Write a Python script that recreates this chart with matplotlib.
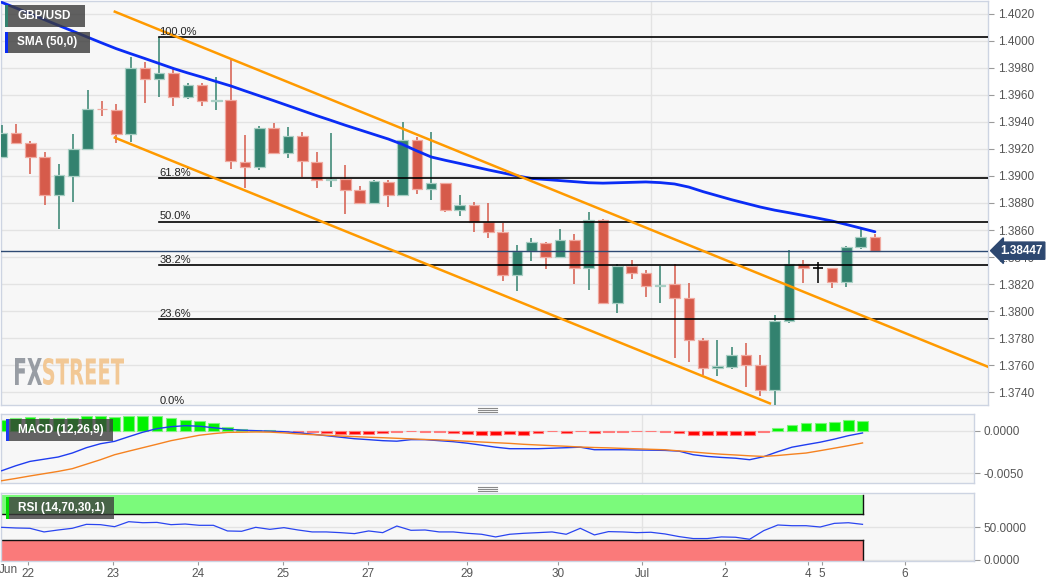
import numpy as np
import matplotlib
matplotlib.use("Agg")
import matplotlib.pyplot as plt
from matplotlib.patches import Rectangle, PathPatch
from matplotlib.textpath import TextPath
from matplotlib.font_manager import FontProperties
from matplotlib.transforms import Affine2D, blended_transform_factory

plt.rcParams['font.family'] = ['Liberation Sans', 'DejaVu Sans']

# GBP/USD 4h candles
opens = [1.39139, 1.39321, 1.39247, 1.39139, 1.38857, 1.39003, 1.39202, 1.39496, 1.39489, 1.39309,
         1.39798, 1.39719, 1.39761, 1.39587, 1.39672, 1.39556, 1.39563, 1.39106, 1.39064, 1.39358,
         1.39168, 1.39294, 1.39106, 1.38968, 1.38980, 1.38894, 1.38798, 1.38953, 1.38859, 1.39267,
         1.38906, 1.38946, 1.38748, 1.38785, 1.38657, 1.38583, 1.38269, 1.38444, 1.38506, 1.38400,
         1.38526, 1.38319, 1.38676, 1.38057, 1.38336, 1.38284, 1.38187, 1.38198, 1.38094, 1.37785,
         1.37576, 1.37587, 1.37674, 1.37598, 1.37415, 1.37926, 1.38348, 1.38316, 1.38316, 1.38217,
         1.38472, 1.38550]
highs = [1.39378, 1.39385, 1.39259, 1.39178, 1.39087, 1.39311, 1.39637, 1.39556, 1.39531, 1.39879,
         1.39842, 1.40027, 1.39802, 1.39691, 1.39687, 1.39736, 1.39872, 1.39301, 1.39368, 1.39390,
         1.39361, 1.39324, 1.39176, 1.39316, 1.39079, 1.38926, 1.38970, 1.38970, 1.39400, 1.39287,
         1.39328, 1.38950, 1.38859, 1.38805, 1.38798, 1.38650, 1.38487, 1.38539, 1.38513, 1.38607,
         1.38568, 1.38731, 1.38681, 1.38348, 1.38378, 1.38301, 1.38336, 1.38346, 1.38205, 1.37798,
         1.37785, 1.37731, 1.37761, 1.37674, 1.37970, 1.38452, 1.38378, 1.38365, 1.38316, 1.38481,
         1.38613, 1.38568]
lows = [1.39133, 1.39244, 1.39013, 1.38783, 1.38605, 1.38807, 1.39198, 1.39444, 1.39242, 1.39254,
        1.39539, 1.39583, 1.39516, 1.39570, 1.39516, 1.39487, 1.39050, 1.38909, 1.39044, 1.39161,
        1.39131, 1.38990, 1.38909, 1.38921, 1.38716, 1.38798, 1.38798, 1.38768, 1.38859, 1.38864,
        1.38822, 1.38736, 1.38706, 1.38587, 1.38543, 1.38220, 1.38148, 1.38373, 1.38313, 1.38398,
        1.38198, 1.38156, 1.38050, 1.37983, 1.38235, 1.38106, 1.38057, 1.37650, 1.37624, 1.37526,
        1.37519, 1.37568, 1.37439, 1.37370, 1.37295, 1.37909, 1.38210, 1.38210, 1.38168, 1.38180,
        1.38457, 1.38439]
closes = [1.39321, 1.39247, 1.39139, 1.38857, 1.39005, 1.39202, 1.39499, 1.39493, 1.39309, 1.39798,
          1.39721, 1.39761, 1.39587, 1.39672, 1.39558, 1.39565, 1.39113, 1.39067, 1.39356, 1.39168,
          1.39294, 1.39109, 1.38970, 1.38980, 1.38896, 1.38798, 1.38963, 1.38859, 1.39267, 1.38906,
          1.38946, 1.38748, 1.38785, 1.38659, 1.38583, 1.38269, 1.38444, 1.38509, 1.38400, 1.38526,
          1.38319, 1.38674, 1.38057, 1.38336, 1.38284, 1.38187, 1.38196, 1.38094, 1.37785, 1.37576,
          1.37593, 1.37674, 1.37598, 1.37415, 1.37926, 1.38348, 1.38316, 1.38316, 1.38217, 1.38472,
          1.38550, 1.38447]
sma50 = [1.40286, 1.40244, 1.40201, 1.40157, 1.40114, 1.40071, 1.40028, 1.39985, 1.39943, 1.39906,
         1.39870, 1.39833, 1.39796, 1.39763, 1.39732, 1.39699, 1.39667, 1.39630, 1.39594, 1.39558,
         1.39521, 1.39484, 1.39447, 1.39412, 1.39376, 1.39342, 1.39308, 1.39274, 1.39234, 1.39186,
         1.39141, 1.39116, 1.39093, 1.39069, 1.39045, 1.39023, 1.39001, 1.38982, 1.38974, 1.38966,
         1.38958, 1.38950, 1.38947, 1.38950, 1.38953, 1.38956, 1.38951, 1.38941, 1.38918, 1.38884,
         1.38854, 1.38824, 1.38797, 1.38770, 1.38747, 1.38728, 1.38708, 1.38688, 1.38667, 1.38641,
         1.38614, 1.38587]

macd = [-0.00473, -0.00414, -0.00363, -0.00337, -0.00311, -0.00264, -0.00201, -0.00154, -0.00126, -0.00071,
        -0.00018, 0.00024, 0.00047, 0.00059, 0.00053, 0.00035, 0.00018, 0.00006, 0.0, -0.00006,
        -0.00012, -0.00024, -0.00041, -0.00059, -0.00077, -0.00095, -0.00106, -0.00118, -0.00124, -0.00106,
        -0.00106, -0.00118, -0.00130, -0.00148, -0.00171, -0.00195, -0.00213, -0.00213, -0.00213, -0.00207,
        -0.00201, -0.00195, -0.00225, -0.00225, -0.00225, -0.00228, -0.00230, -0.00233, -0.00242, -0.00284,
        -0.00304, -0.00316, -0.00325, -0.00343, -0.00307, -0.00248, -0.00195, -0.00165, -0.00136, -0.00100,
        -0.00059, -0.00027]
signal = [-0.00591, -0.00564, -0.00535, -0.00508, -0.00481, -0.00449, -0.00396, -0.00343, -0.00284, -0.00242,
          -0.00201, -0.00160, -0.00118, -0.00086, -0.00054, -0.00035, -0.00020, -0.00018, -0.00015, -0.00017,
          -0.00026, -0.00039, -0.00047, -0.00054, -0.00063, -0.00070, -0.00077, -0.00083, -0.00090, -0.00097,
          -0.00104, -0.00109, -0.00117, -0.00125, -0.00134, -0.00142, -0.00150, -0.00161, -0.00169, -0.00177,
          -0.00184, -0.00193, -0.00199, -0.00203, -0.00209, -0.00214, -0.00220, -0.00225, -0.00239, -0.00252,
          -0.00266, -0.00278, -0.00287, -0.00297, -0.00304, -0.00293, -0.00278, -0.00264, -0.00236, -0.00207,
          -0.00177, -0.00145]
hist = [0.00122, 0.00150, 0.00162, 0.00150, 0.00150, 0.00150, 0.00169, 0.00177, 0.00162, 0.00177,
        0.00177, 0.00169, 0.00150, 0.00130, 0.00110, 0.00091, 0.00044, 0.00020, 0.00012, 0.00004,
        -0.00004, -0.00012, -0.00020, -0.00027, -0.00039, -0.00044, -0.00035, -0.00032, -0.00020, -0.00008,
        -0.00020, -0.00020, -0.00032, -0.00035, -0.00047, -0.00051, -0.00044, -0.00047, -0.00027, -0.00004,
        -0.00027, -0.00004, -0.00027, -0.00020, -0.00012, -0.00004, -0.00004, -0.00020, -0.00027, -0.00047,
        -0.00056, -0.00047, -0.00047, -0.00047, -0.00015, 0.00035, 0.00071, 0.00086, 0.00091, 0.00106,
        0.00122, 0.00118]
rsi = [50.0, 49.0, 48.5, 42.9, 45.9, 48.5, 54.6, 54.1, 51.0, 58.7,
       57.1, 57.6, 54.1, 55.1, 53.1, 53.1, 44.4, 43.9, 50.0, 46.9,
       49.5, 45.9, 42.9, 42.9, 41.8, 40.3, 44.4, 41.8, 52.0, 45.4,
       45.9, 42.9, 42.9, 40.8, 39.3, 35.2, 39.3, 40.8, 41.8, 42.9,
       39.3, 48.5, 38.3, 43.4, 42.9, 41.8, 42.4, 39.8, 35.7, 32.7,
       32.7, 35.2, 34.7, 31.6, 44.9, 53.6, 52.5, 52.5, 50.5, 56.1,
       57.1, 54.6]

tick_pos = [1.86, 7.89, 13.91, 19.93, 25.96, 32.97, 39.42, 45.38, 51.26, 57.14, 58.13, 64.02]
tick_labels = ['22', '23', '24', '25', '27', '29', '30', 'Jul', '2', '4', '5', '6']
month_label_pos = 0.45

fib_high = 1.40027
fib_low = 1.37295
fib_ratios = [0.0, 0.236, 0.382, 0.5, 0.618, 1.0]
fib_names = ['0.0%', '23.6%', '38.2%', '50.0%', '61.8%', '100.0%']
fib_start = 11

chan_upper_x = [7.9, 68.9]
chan_upper_y = [1.40217, 1.37587]
chan_lower_x = [7.9, 53.66]
chan_lower_y = [1.39284, 1.37316]
last_price = 1.38447

W, H = 1060, 587
GREEN, RED = '#33826f', '#d65b4b'
BG = '#f7f7f7'
SPINE = '#cdd4e2'
GRID = '#e3e3e3'
TXT = '#555555'

n = len(closes)
idx = np.arange(n)
xlim = (-0.05, 68.9)

fig = plt.figure(figsize=(W / 100, H / 100), dpi=100)
fig.patch.set_facecolor('white')


def fax(x0, y0, x1, y1):
    return [x0 / W, 1 - y1 / H, (x1 - x0) / W, (y1 - y0) / H]


ax = fig.add_axes(fax(1, 1, 988, 405))
axm = fig.add_axes(fax(1, 414, 974, 483))
axr = fig.add_axes(fax(1, 493, 974, 561))

for a in (ax, axm, axr):
    a.set_facecolor(BG)
    for s in a.spines.values():
        s.set_color(SPINE)
        s.set_linewidth(1)
    a.set_xlim(*xlim)
    a.yaxis.tick_right()
    a.tick_params(axis='y', labelsize=8.5, labelcolor=TXT, color='#9a9a9a', length=4, width=0.8, pad=3)
    a.axvline(tick_pos[7], color=GRID, lw=1, zorder=0)

# ---- main price panel
ax.set_ylim(1.37304, 1.40296)
yt = np.arange(1.374, 1.4021, 0.002)
ax.set_yticks(yt, [f'{v:.4f}' for v in yt])
ax.grid(axis='y', color=GRID, lw=1)
ax.set_axisbelow(True)
ax.tick_params(axis='x', bottom=False, labelbottom=False)

for i in range(n):
    o, h, l, c = opens[i], highs[i], lows[i], closes[i]
    if abs(c - o) < 1e-6:
        col, ec = 'black', 'black'
    elif c > o:
        col, ec = GREEN, '#a9cfc4'
    else:
        col, ec = RED, '#f0aaa0'
    ax.vlines(i, l, h, color=col, lw=1.1, zorder=3)
    hgt = max(abs(c - o), 0.00003)
    if col == 'black':
        ax.hlines(o, i - 0.36, i + 0.36, color='black', lw=1.2, zorder=4)
    else:
        ax.bar(i, hgt, bottom=min(o, c), width=0.74, color=col, edgecolor=ec,
               linewidth=0.9, zorder=4)

ax.plot(idx, sma50, color='#0a2cf5', lw=2, zorder=5, solid_capstyle='round')
ax.plot(chan_upper_x, chan_upper_y, color='#ff9a00', lw=1.8, zorder=6)
ax.plot(chan_lower_x, chan_lower_y, color='#ff9a00', lw=1.8, zorder=6)

for r, name in zip(fib_ratios, fib_names):
    lvl = fib_low + r * (fib_high - fib_low)
    ax.plot([fib_start, xlim[1]], [lvl, lvl], color='black', lw=1.2, zorder=5)
    ax.text(fib_start, lvl + 0.00003, name, fontsize=8, color='#222222',
            ha='left', va='bottom', zorder=7)

ax.axhline(last_price, color='#2e4a73', lw=1, zorder=5)
trans = blended_transform_factory(ax.transAxes, ax.transData)
ax.text(1.012, last_price, f'{last_price:.5f}', transform=trans, fontsize=8.5,
        fontweight='bold', color='white', ha='left', va='center', zorder=8,
        bbox=dict(boxstyle='larrow,pad=0.22', fc='#2d4870', ec='#2d4870'))

# ---- MACD panel
axm.set_ylim(-0.00618, 0.00197)
axm.set_yticks([0.0, -0.005], ['0.0000', '-0.0050'])
axm.grid(axis='y', color=GRID, lw=1)
axm.set_axisbelow(True)
axm.tick_params(axis='x', bottom=False, labelbottom=False)
hcol = ['#00f200' if v >= 0 else '#ff0000' for v in hist]
hedge = ['#7cf57c' if v >= 0 else '#ff7b7b' for v in hist]
axm.bar(idx, hist, width=0.76, color=hcol, edgecolor=hedge, linewidth=0.8, zorder=2)
axm.plot(idx, macd, color='#1f3cf0', lw=1, zorder=3)
axm.plot(idx, signal, color='#f58220', lw=1, zorder=3)

# ---- RSI panel
axr.set_ylim(-1.9, 102.9)
axr.set_yticks([0, 50], ['0.0000', '50.0000'])
axr.grid(axis='y', color=GRID, lw=1)
axr.set_axisbelow(True)
band_x = [xlim[0], n - 1]
axr.fill_between(band_x, 70, 100, color='#7bfa7b', zorder=1, lw=0)
axr.fill_between(band_x, -1.9, 30, color='#fa7a7a', zorder=1, lw=0)
axr.plot(band_x, [70, 70], color='#111111', lw=1, zorder=2)
axr.plot(band_x, [30, 30], color='#111111', lw=1, zorder=2)
axr.plot([n - 1, n - 1], [70, 100], color='#111111', lw=1, zorder=2)
axr.plot([n - 1, n - 1], [-1.9, 30], color='#111111', lw=1, zorder=2)
axr.plot(idx, rsi, color='#2a45f0', lw=0.9, zorder=3)
axr.set_xticks(tick_pos, tick_labels)
axr.tick_params(axis='x', labelsize=8.5, labelcolor=TXT, color='#9a9a9a', length=3, pad=2)
axr.text(month_label_pos, -0.04, 'Jun', transform=blended_transform_factory(axr.transData, axr.transAxes),
         fontsize=8.5, color=TXT, ha='center', va='top')


# ---- legend boxes (figure pixel coords)
def box(x0, y0, x1, y1, strip, label, alpha):
    fig.add_artist(Rectangle((x0 / W, 1 - y1 / H), (x1 - x0) / W, (y1 - y0) / H,
                             transform=fig.transFigure, fc='#3a3a3a', ec='none', alpha=alpha, zorder=20))
    fig.add_artist(Rectangle((x0 / W, 1 - y1 / H), 2.5 / W, (y1 - y0) / H,
                             transform=fig.transFigure, fc=strip, ec='none', zorder=21))
    fig.text((x0 + 12) / W, 1 - (y0 + y1) / 2 / H, label, color='white', fontsize=8.5,
             fontweight='bold', ha='left', va='center', zorder=22)


box(5, 5, 85, 27, GREEN, 'GBP/USD', 0.8)
box(5, 32, 90, 53, '#0a2cf5', 'SMA (50,0)', 0.8)
box(6, 419, 113, 441, '#1f3cf0', 'MACD (12,26,9)', 0.78)
box(6, 497, 114, 519, '#00dd00', 'RSI (14,70,30,1)', 0.78)

# panel resize handles
for yy in (408, 487):
    for k in range(3):
        fig.add_artist(plt.Line2D([478 / W, 497 / W], [1 - (yy + 2.2 * k) / H] * 2,
                                  transform=fig.transFigure, color='#8a8a8a', lw=0.8, zorder=20))

# FXSTREET watermark
fp = FontProperties(family='DejaVu Sans', weight='bold')
for word, x0, x1, col in (('FX', 15, 42, '#8e939b'), ('STREET', 43, 124, '#f2c38b')):
    tp = TextPath((0, 0), word, size=100, prop=fp)
    ext = tp.get_extents()
    tr = (Affine2D().translate(-ext.x0, -ext.y0)
          .scale((x1 - x0) / ext.width, 27 / ext.height)
          .translate(x0, H - 385))
    fig.add_artist(PathPatch(tp, transform=tr, fc=col, ec='none', alpha=0.9, zorder=15))

fig.savefig('out.png', dpi=100, facecolor='white')
